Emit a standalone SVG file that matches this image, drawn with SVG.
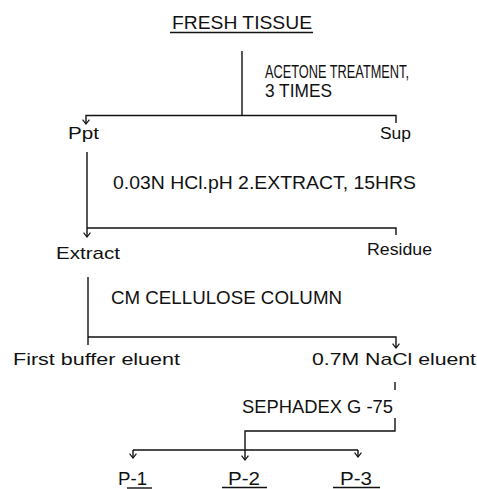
<svg xmlns="http://www.w3.org/2000/svg" width="477" height="489" viewBox="0 0 477 489">
<style>
text{font-family:"Liberation Sans",Arial,sans-serif;fill:#111;}
.u{font-size:18px;}
.m{font-size:17px;}
.s{font-size:16px;}
.ln{stroke:#111;stroke-width:1.4;fill:none;}
</style>
<defs>
<marker id="ah" markerUnits="userSpaceOnUse" markerWidth="12" markerHeight="12" refX="0" refY="0" viewBox="-7 -7 14 14" orient="auto" overflow="visible">
<polyline points="-5,-4 0,0 -5,4" fill="none" stroke="#111" stroke-width="1.4"/>
</marker>
</defs>
<rect width="477" height="489" fill="#fff"/>
<g id="connectors" class="ln">
<line x1="242" y1="51" x2="242" y2="116"/>
<polyline points="396,123 396,115.5 86,115.5 86,124" marker-end="url(#ah)"/>
<line x1="87" y1="152" x2="87" y2="237" marker-end="url(#ah)"/>
<polyline points="87,228 396,228 396,235"/>
<line x1="88" y1="277" x2="88" y2="345"/>
<polyline points="88,337 396,337 396,348" marker-end="url(#ah)"/>
<line x1="395" y1="382" x2="395" y2="390"/>
<polyline points="395,418 395,431 245,431 245,460" marker-end="url(#ah)"/>
<line x1="133" y1="450" x2="358" y2="450"/>
<line x1="133" y1="450" x2="133" y2="458" marker-end="url(#ah)"/>
<line x1="358" y1="450" x2="358" y2="457" marker-end="url(#ah)"/>
</g>
<g id="fresh-tissue">
<text class="u" x="172" y="29" textLength="140" lengthAdjust="spacingAndGlyphs">FRESH TISSUE</text>
<line class="ln" x1="170" y1="32.5" x2="313" y2="32.5" stroke-width="1.2"/>
</g>
<g id="acetone-label">
<text class="u" x="265" y="78" textLength="144" lengthAdjust="spacingAndGlyphs">ACETONE TREATMENT,</text>
<text class="u" x="265" y="97" textLength="67" lengthAdjust="spacingAndGlyphs">3 TIMES</text>
</g>
<g id="ppt"><text class="s" x="68" y="139" textLength="31" lengthAdjust="spacingAndGlyphs">Ppt</text></g>
<g id="sup"><text class="s" x="380" y="139" textLength="31" lengthAdjust="spacingAndGlyphs">Sup</text></g>
<g id="hcl-label"><text class="u" x="113" y="189" textLength="303" lengthAdjust="spacingAndGlyphs">0.03N HCl.pH 2.EXTRACT, 15HRS</text></g>
<g id="extract"><text class="m" x="56" y="259" textLength="64" lengthAdjust="spacingAndGlyphs">Extract</text></g>
<g id="residue"><text class="m" x="367" y="255" textLength="65" lengthAdjust="spacingAndGlyphs">Residue</text></g>
<g id="cm-label"><text class="u" x="111" y="304" textLength="231" lengthAdjust="spacingAndGlyphs">CM CELLULOSE COLUMN</text></g>
<g id="first-buffer"><text class="m" x="13" y="365" textLength="167" lengthAdjust="spacingAndGlyphs">First buffer eluent</text></g>
<g id="nacl"><text class="m" x="312" y="365" textLength="164" lengthAdjust="spacingAndGlyphs">0.7M NaCl eluent</text></g>
<g id="sephadex-label"><text class="u" x="242" y="413" textLength="151" lengthAdjust="spacingAndGlyphs">SEPHADEX G -75</text></g>
<g id="p1">
<text class="u" x="118" y="485" textLength="29" lengthAdjust="spacingAndGlyphs">P-1</text>
<line class="ln" x1="127" y1="488" x2="152" y2="488" stroke-width="1.2"/>
</g>
<g id="p2">
<text class="u" x="228" y="485" textLength="32" lengthAdjust="spacingAndGlyphs">P-2</text>
<line class="ln" x1="222" y1="487.5" x2="267" y2="487.5" stroke-width="1.2"/>
</g>
<g id="p3">
<text class="u" x="340" y="485" textLength="32" lengthAdjust="spacingAndGlyphs">P-3</text>
<line class="ln" x1="333" y1="487.5" x2="380" y2="487.5" stroke-width="1.2"/>
</g>
</svg>
